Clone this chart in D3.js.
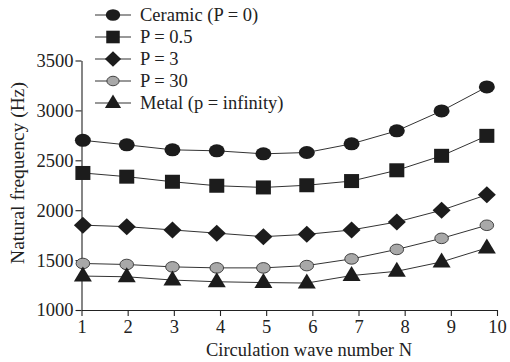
<!DOCTYPE html>
<html>
<head>
<meta charset="utf-8">
<script src="https://cdn.jsdelivr.net/npm/d3@7"></script>
<style>
  body { margin: 0; background: #fff; }
</style>
</head>
<body>
<div id="chart"></div>
<script>
// wave numbers, and where each point actually sits along the axis
var waveN = [1, 2, 3, 4, 5, 6, 7, 8, 9, 10]
var xPos = [1.03, 1.98, 2.97, 3.93, 4.94, 5.88, 6.85, 7.83, 8.8, 9.78]

var ceramic = [2700, 2655, 2605, 2595, 2565, 2578, 2665, 2795, 2995, 3235]
var p05 = [2373, 2336, 2285, 2245, 2228, 2250, 2292, 2400, 2545, 2745]
var p3 = [1850, 1835, 1802, 1770, 1735, 1758, 1802, 1882, 2000, 2155]
var p30 = [1466, 1456, 1432, 1422, 1422, 1445, 1512, 1607, 1718, 1849]
var metal = [1340, 1333, 1300, 1283, 1275, 1270, 1345, 1388, 1482, 1622]

var seriesNames = ["Ceramic (P = 0)", "P = 0.5", "P = 3", "P = 30", "Metal (p = infinity)"]
var yTicks = [1000, 1500, 2000, 2500, 3000, 3500]

var allSeries = [ceramic, p05, p3, p30, metal]
var shapes = ["circle", "square", "diamond", "gray", "triangle"]

var FONT = "'Liberation Serif', 'Times New Roman', Times, 'DejaVu Serif', serif"
var fs = 18.5

var W = 510, H = 362
var margin = { top: 60.5, right: 13, bottom: 52, left: 81.5 }
var width = W - margin.left - margin.right,
  height = H - margin.top - margin.bottom

var svg = d3.select("#chart")
  .append("svg")
  .attr("width", W)
  .attr("height", H)
  .style("font-family", FONT)

var g = svg.append("g")
  .attr("transform", "translate(" + margin.left + "," + margin.top + ")")

var x = d3.scaleLinear().domain([1, 10]).range([0, width])
var y = d3.scaleLinear().domain([1000, 3500]).range([height, 0])

// axes
var xAxis = g.append("g")
  .attr("transform", "translate(0," + height + ")")
  .call(d3.axisBottom(x).tickValues(waveN).tickFormat(d3.format("d")).tickSize(6).tickSizeOuter(0))
var yAxis = g.append("g")
  .call(d3.axisLeft(y).tickValues(yTicks).tickFormat(d3.format("d")).tickSize(6).tickSizeOuter(0))

xAxis.attr("font-family", null)
yAxis.attr("font-family", null)
g.selectAll(".domain, .tick line").attr("stroke", "#222").attr("stroke-width", 1.1)
xAxis.selectAll("text").attr("font-size", fs).attr("dy", "0.9em").attr("y", 6)
yAxis.selectAll("text").attr("font-size", fs).attr("x", -8)
g.selectAll(".tick text").style("font-family", FONT).attr("fill", "#222")

svg.append("text")
  .attr("x", 309)
  .attr("y", 356)
  .attr("text-anchor", "middle")
  .attr("font-size", fs)
  .attr("fill", "#222")
  .text("Circulation wave number N")

svg.append("text")
  .attr("transform", "translate(24,173) rotate(-90)")
  .attr("text-anchor", "middle")
  .attr("font-size", 19.5)
  .attr("fill", "#222")
  .text("Natural frequency (Hz)")

// marker drawing
function drawMarker(sel, shape, s) {
  if (shape == "circle") {
    sel.append("ellipse").attr("rx", 8 * s).attr("ry", 6.5 * s).attr("fill", "#1c1c1c")
  } else if (shape == "square") {
    sel.append("rect").attr("x", -7.5 * s).attr("y", -7 * s).attr("width", 15 * s).attr("height", 14 * s).attr("fill", "#1c1c1c")
  } else if (shape == "diamond") {
    sel.append("path").attr("d", "M0," + (-8.5 * s) + "L" + (9 * s) + ",0L0," + (8.5 * s) + "L" + (-9 * s) + ",0Z").attr("fill", "#1c1c1c")
  } else if (shape == "gray") {
    sel.append("ellipse").attr("rx", 6.8 * s).attr("ry", 5.3 * s).attr("fill", "#a8a8a8").attr("stroke", "#333").attr("stroke-width", 0.9)
  } else {
    sel.append("path").attr("d", "M0," + (-9.5 * s) + "L" + (9 * s) + "," + (5.5 * s) + "L" + (-9 * s) + "," + (5.5 * s) + "Z").attr("fill", "#1c1c1c")
  }
}

var line = d3.line()
  .x(function (d, i) { return x(xPos[i]) })
  .y(function (d) { return y(d) })

allSeries.forEach(function (data, k) {
  g.append("path")
    .datum(data)
    .attr("d", line)
    .attr("fill", "none")
    .attr("stroke", "#333")
    .attr("stroke-width", 1)

  g.selectAll(".m" + k)
    .data(data)
    .enter()
    .append("g")
    .attr("class", "m" + k)
    .attr("transform", function (d, i) { return "translate(" + x(xPos[i]) + "," + y(d) + ")" })
    .each(function () { drawMarker(d3.select(this), shapes[k], 1) })
})

// legend
var legend = svg.append("g").attr("transform", "translate(95,15)")
seriesNames.forEach(function (name, k) {
  var row = legend.append("g").attr("transform", "translate(0," + (k * 22) + ")")
  row.append("line").attr("x1", 0).attr("x2", 36).attr("stroke", "#333").attr("stroke-width", 1.1)
  var m = row.append("g").attr("transform", "translate(18,0)")
  drawMarker(m, shapes[k], 0.9)
  row.append("text")
    .attr("x", 45)
    .attr("y", 0)
    .attr("dy", "0.35em")
    .attr("font-size", fs)
    .attr("fill", "#222")
    .text(name)
})
</script>
</body>
</html>
